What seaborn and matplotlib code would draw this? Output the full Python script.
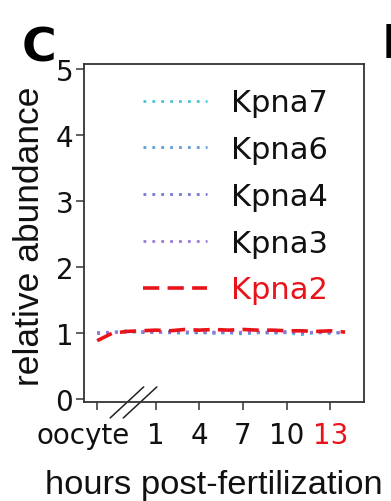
import matplotlib
matplotlib.use("Agg")
import matplotlib.pyplot as plt
import matplotlib.transforms as mtransforms
import seaborn as sns
import pandas as pd
import numpy as np

# ---- data ----
hours = [-3, -2, -1, 0, 1, 2, 3, 4, 5, 6, 7, 8, 9, 10, 11, 12, 13, 14]
kpna7 = [0.99, 1.00, 1.02, 1.00, 1.01, 1.00, 0.99, 1.00, 0.99, 1.00, 0.98, 1.00, 0.99, 1.00, 0.97, 1.00, 0.99, 1.00]
kpna6 = [1.00, 1.01, 1.03, 1.01, 1.02, 1.01, 1.00, 1.01, 1.00, 1.01, 0.99, 1.01, 1.00, 1.01, 0.99, 1.01, 1.00, 1.01]
kpna4 = [1.00, 1.00, 1.02, 1.01, 1.00, 1.02, 1.01, 1.00, 1.01, 1.00, 1.00, 1.01, 1.00, 1.02, 1.00, 1.01, 1.00, 1.00]
kpna3 = [0.99, 1.00, 1.01, 1.02, 1.01, 1.00, 1.01, 1.02, 1.00, 1.01, 1.01, 1.00, 1.02, 1.00, 1.01, 1.00, 1.01, 1.00]
kpna2 = [0.88, 0.99, 1.02, 1.03, 1.04, 1.03, 1.05, 1.04, 1.05, 1.04, 1.05, 1.04, 1.04, 1.03, 1.03, 1.02, 1.03, 1.01]

genes = ["Kpna7", "Kpna6", "Kpna4", "Kpna3", "Kpna2"]
series = [kpna7, kpna6, kpna4, kpna3, kpna2]
colors = ["#45c6d3", "#5f9bd3", "#7476d6", "#9a77d8", "#e8131b"]

tick_pos = [-3, 1, 4, 7, 10, 13]
tick_labels = ["oocyte", "1", "4", "7", "10", "13"]
y_ticks = [0, 1, 2, 3, 4, 5]

df = pd.DataFrame({
    "hour": np.tile(hours, len(genes)),
    "value": np.concatenate(series),
    "gene": np.repeat(genes, len(hours)),
})

sns.set_theme(style="ticks")
plt.rcParams["font.family"] = ["DejaVu Sans"]

fig = plt.figure(figsize=(3.91, 5.02), dpi=100)
ax = fig.add_axes([0.215, 0.197, 0.716, 0.6735])

dashes = {g: (1, 2.2) for g in genes[:-1]}
dashes["Kpna2"] = (4.5, 2.3)
sns.lineplot(data=df, x="hour", y="value", hue="gene", style="gene",
             hue_order=genes, style_order=genes,
             palette=dict(zip(genes, colors)), dashes=dashes,
             ax=ax, legend=True)
lws = {g: 2.0 for g in genes}
lws["Kpna2"] = 2.6
for line, g in zip(ax.get_lines(), genes):
    line.set_linewidth(lws[g])

ax.set_xlim(-3.9, 15.3)
ax.set_ylim(-0.05, 5.07)
ax.set_xticks(tick_pos)
ax.set_xticklabels(tick_labels)
ax.set_yticks(y_ticks)
ax.tick_params(axis="both", labelsize=20, length=5.8, width=1.1, color="#333333",
               labelcolor="#111111")
ax.tick_params(axis="x", pad=8.0)
ax.tick_params(axis="y", pad=2.0)
xlabs = ax.get_xticklabels()
xlabs[-1].set_color("#e8131b")
# the "oocyte" label sits a little left of its tick
xlabs[0].set_transform(xlabs[0].get_transform() +
                       mtransforms.ScaledTranslation(-10 / 72, 0, fig.dpi_scale_trans))
for s in ax.spines.values():
    s.set_linewidth(1.3)
    s.set_color("#333333")

ax.set_xlabel("hours post-fertilization", family="Liberation Sans", fontsize=24.8,
              color="#111111")
ax.xaxis.set_label_coords(0.464, -0.199)
ax.set_ylabel("relative abundance", family="Liberation Sans", fontsize=25.5,
              color="#111111")
ax.yaxis.set_label_coords(-0.137, 0.494)

# legend
handles, labels = ax.get_legend_handles_labels()
for h, g in zip(handles, genes):
    h.set_linewidth(lws[g])
leg = ax.legend(handles, labels, loc="upper right", bbox_to_anchor=(0.971, 1.009),
                frameon=False, fontsize=22, handlelength=2.1, handletextpad=0.8,
                labelspacing=0.58)
for t in leg.get_texts():
    t.set_color("#111111")
leg.get_texts()[-1].set_color("#e8131b")

# axis break marks
for x0 in (0.093, 0.14):
    ax.plot([x0, x0 + 0.12], [-0.047, 0.045], transform=ax.transAxes,
            color="#222222", lw=1.1, clip_on=False)

fig.text(0.055, 0.878, "C", fontsize=34, fontweight="bold", color="black")
fig.text(0.975, 0.885, "D", fontsize=34, fontweight="bold", color="black")

fig.savefig("out.png", dpi=100)
